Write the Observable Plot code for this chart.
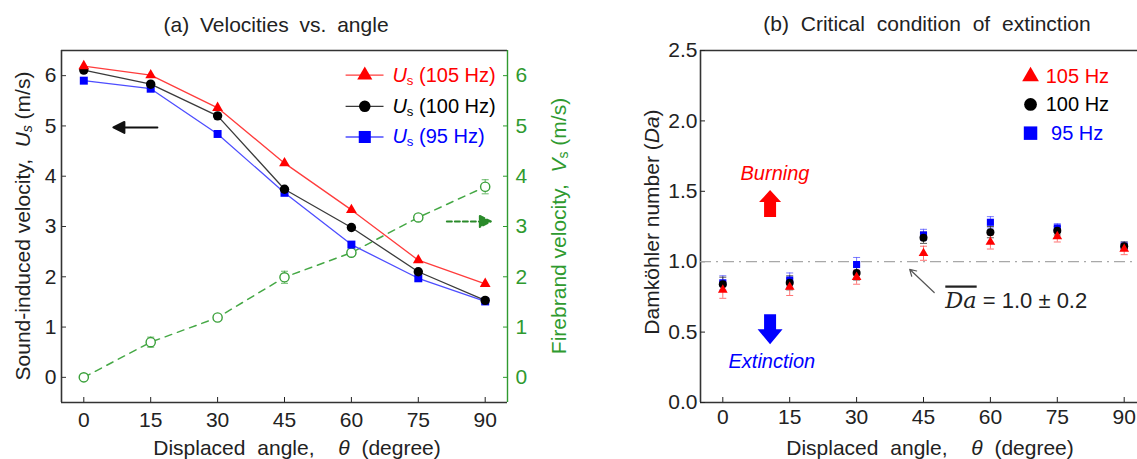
<!DOCTYPE html>
<html><head><meta charset="utf-8">
<script src="https://cdn.jsdelivr.net/npm/d3@7"></script>
<script src="https://cdn.jsdelivr.net/npm/@observablehq/plot@0.6"></script>
<style>
html,body{margin:0;padding:0;background:#fff;overflow:hidden;}
#wrap{position:relative;width:1137px;height:459px;overflow:hidden;background:#fff;}
#wrap svg{position:absolute;top:0;overflow:visible;}
</style></head>
<body><div id="wrap"></div>
<script>
// ---------- data ----------
const angles = [0, 15, 30, 45, 60, 75, 90];
const us105 = [6.19, 6.01, 5.36, 4.26, 3.33, 2.33, 1.86];
const us100 = [6.11, 5.83, 5.20, 3.74, 2.98, 2.10, 1.53];
const us95  = [5.90, 5.74, 4.84, 3.67, 2.64, 1.97, 1.51];
const vs    = [0.00, 0.70, 1.19, 1.99, 2.48, 3.18, 3.79];
const vsErr = [0.04, 0.10, 0.06, 0.12, 0.05, 0.05, 0.14];
const da105 = [0.80, 0.82, 0.89, 1.06, 1.14, 1.18, 1.09];
const da100 = [0.84, 0.85, 0.92, 1.17, 1.21, 1.22, 1.11];
const da95  = [0.85, 0.87, 0.98, 1.19, 1.28, 1.24, 1.11];
const da105Err = [0.06, 0.06, 0.05, 0.05, 0.05, 0.04, 0.04];
const da100Err = [0.05, 0.05, 0.05, 0.04, 0.04, 0.03, 0.03];
const da95Err  = [0.05, 0.05, 0.05, 0.04, 0.04, 0.03, 0.03];
const daMean = [1.0];
const yTicksA = [0, 1, 2, 3, 4, 5, 6];
const yTicksB = [0, 0.5, 1.0, 1.5, 2.0, 2.5];
const seriesNames = ["105 Hz", "100 Hz", "95 Hz"];
const titleA = "(a) Velocities vs. angle";
const titleB = "(b) Critical condition of extinction";

// ---------- styling / layout ----------
const FONT = '"Liberation Sans", Arial, Helvetica, sans-serif';
const TXT = "#222";
const RED = "#ff0000", BLK = "#000000", BLU = "#0000ff", GRN = "#2f9a2f";
const FS = 21;
const xDomain = [-5, 95];
const yDomainA = [-0.5, 6.5];
const yDomainB = [0, 2.5];

const toRows = (vals, err) => angles.map((x, i) => ({x, y: vals[i], e: err ? err[i] : 0}));
const capSymbol = {draw(ctx) { ctx.moveTo(-3.5, 0); ctx.lineTo(3.5, 0); }};
const lineArrow = {draw(ctx, l) { const hl = 11, hw = 5.5; ctx.moveTo(0, 0); ctx.lineTo(0, -(l - hl)); ctx.moveTo(-hw, -(l - hl)); ctx.lineTo(0, -l); ctx.lineTo(hw, -(l - hl)); ctx.closePath(); }};
const blockArrow = (sw, hw, hl) => ({draw(ctx, l) { ctx.moveTo(-sw, 0); ctx.lineTo(-sw, -(l - hl)); ctx.lineTo(-hw, -(l - hl)); ctx.lineTo(0, -l); ctx.lineTo(hw, -(l - hl)); ctx.lineTo(sw, -(l - hl)); ctx.lineTo(sw, 0); ctx.closePath(); }});

function errMarks(rows, color) {
  return [
    Plot.ruleX(rows, {x: "x", y1: d => d.y - d.e, y2: d => d.y + d.e, stroke: color, strokeWidth: 1, strokeOpacity: 0.8}),
    Plot.dot(rows, {x: "x", y: d => d.y + d.e, symbol: capSymbol, stroke: color, fill: "none", strokeWidth: 1, strokeOpacity: 0.8}),
    Plot.dot(rows, {x: "x", y: d => d.y - d.e, symbol: capSymbol, stroke: color, fill: "none", strokeWidth: 1, strokeOpacity: 0.8})
  ];
}

function rich(svg, {x, y, rotate = 0, anchor = "middle", size = FS, fill = TXT, ws = 0}, parts) {
  const t = d3.select(svg).append("text")
    .attr("transform", `translate(${x},${y})` + (rotate ? ` rotate(${rotate})` : ""))
    .attr("text-anchor", anchor).attr("dominant-baseline", "central")
    .attr("font-family", FONT).attr("font-size", size).attr("fill", fill)
    .style("white-space", "pre").style("word-spacing", ws + "px");
  let shift = 0;
  for (const p of parts) {
    const s = t.append("tspan").text(p.t);
    if (p.i) s.attr("font-style", "italic");
    if (p.serif) s.attr("font-family", '"DejaVu Serif", "Liberation Serif", serif').attr("font-size", size * 1.02);
    if (p.over) s.attr("text-decoration", "overline");
    if (p.sub) { s.attr("font-size", size * 0.66).attr("dy", 5); shift = 5; }
    else if (shift) { s.attr("dy", -shift); shift = 0; }
  }
}

const wrap = document.getElementById("wrap");

// ---------- panel (a) ----------
const usRows = [toRows(us95), toRows(us100), toRows(us105)];
const usStyle = [
  {line: "#4d4dff", fill: BLU, symbol: "square", r: 4.5},
  {line: "#3a3a3a", fill: BLK, symbol: "circle", r: 4.7},
  {line: "#ff3c3c", fill: RED, symbol: "triangle", r: 4.0}
];
const vsRows = toRows(vs, vsErr);
const legendA = [
  {y: 6.01, color: RED, line: "#ff3c3c", symbol: "triangle", r: 5.6, name: seriesNames[0]},
  {y: 5.39, color: BLK, line: "#3a3a3a", symbol: "circle", r: 5.8, name: seriesNames[1]},
  {y: 4.78, color: BLU, line: "#4d4dff", symbol: "square", r: 6.8, name: seriesNames[2]}
];
const legA = {x1: 58.7, x2: 67.2, xm: 63.0, xt: 69.3};
const arrowsA = [
  {x: 16.5, y: 4.97, rotate: -90},
  {x: 81.4, y: 3.10, rotate: 90}
];

const plotA = Plot.plot({
  width: 600, height: 459,
  marginLeft: 61, marginRight: 93, marginTop: 50, marginBottom: 57,
  x: {domain: xDomain},
  y: {domain: yDomainA},
  r: {type: "identity"},
  style: {fontFamily: FONT, fontSize: FS + "px", color: TXT, background: "transparent", overflow: "visible"},
  marks: [
    Plot.ruleY([yDomainA[1]], {stroke: "#333", strokeWidth: 1.6}),
    Plot.ruleY([yDomainA[0]], {stroke: "#333", strokeWidth: 1.6}),
    Plot.ruleX([xDomain[0]], {stroke: "#333", strokeWidth: 1.6}),
    Plot.ruleX([xDomain[1]], {stroke: GRN, strokeWidth: 1.4}),
    Plot.axisY({ticks: yTicksA, tickFormat: d3.format("d"), tickSize: -5, tickPadding: 10, label: null, fontSize: FS, stroke: "#333"}),
    Plot.axisY({anchor: "right", ticks: yTicksA, tickFormat: d3.format("d"), tickSize: -5, tickPadding: 13, label: null, fontSize: FS, color: GRN}),
    Plot.axisX({ticks: angles, tickFormat: d3.format("d"), tickSize: -5, tickPadding: 15, label: null, fontSize: FS}),
    // firebrand velocity
    Plot.line(vsRows, {x: "x", y: "y", stroke: "#45a845", strokeWidth: 1.5, strokeDasharray: "7,6"}),
    ...errMarks(vsRows, "#45a845"),
    Plot.dot(vsRows, {x: "x", y: "y", r: 4.6, stroke: "#3aa03a", strokeWidth: 1.4, fill: "white"}),
    // sound-induced velocity
    ...usRows.map((rows, k) => Plot.line(rows, {x: "x", y: "y", stroke: usStyle[k].line, strokeWidth: 1.3})),
    ...usRows.map((rows, k) => Plot.dot(rows, {x: "x", y: "y", symbol: usStyle[k].symbol, r: usStyle[k].r, fill: usStyle[k].fill, stroke: "none"})),
    // legend
    Plot.link(legendA, {x1: () => legA.x1, x2: () => legA.x2, y1: "y", y2: "y", stroke: "line", strokeWidth: 1.3}),
    Plot.dot(legendA, {x: () => legA.xm, y: "y", symbol: "symbol", r: "r", fill: "color", stroke: "none"}),
    // arrows
    Plot.vector(arrowsA.slice(0, 1), {x: "x", y: "y", rotate: "rotate", length: 44, anchor: "start", shape: lineArrow, stroke: "#111", fill: "#111", strokeWidth: 2}),
    Plot.vector(arrowsA.slice(1), {x: "x", y: "y", rotate: "rotate", length: 44, anchor: "start", shape: lineArrow, stroke: "#2a8a2a", fill: "#2a8a2a", strokeWidth: 2, strokeDasharray: "5,3"})
  ]
});
plotA.style.left = "0px";
wrap.appendChild(plotA);
{
  const sx = plotA.scale("x"), sy = plotA.scale("y");
  rich(plotA, {x: 276, y: 24, ws: 5}, [{t: titleA}]);
  legendA.forEach(d => rich(plotA, {x: sx.apply(legA.xt), y: sy.apply(d.y), anchor: "start", fill: d.color, size: 20},
    [{t: "U", i: true}, {t: "s", sub: true}, {t: " (" + d.name + ")"}]));
  rich(plotA, {x: 22, y: 226, rotate: -90, size: 21}, [{t: "Sound-induced velocity,  "}, {t: "U", i: true}, {t: "s", sub: true, i: true}, {t: " (m/s)"}]);
  rich(plotA, {x: 558, y: 226, rotate: -90, fill: GRN, size: 21}, [{t: "Firebrand velocity,  "}, {t: "V", i: true}, {t: "s", sub: true}, {t: " (m/s)"}]);
  rich(plotA, {x: 297, y: 447, ws: 6}, [{t: "Displaced angle,  "}, {t: "θ", i: true}, {t: " (degree)"}]);
}

// ---------- panel (b) ----------
const daSets = [
  {rows: toRows(da95, da95Err), fill: BLU, err: "#5a5aff", symbol: "square", r: 4.0},
  {rows: toRows(da100, da100Err), fill: BLK, err: "#333", symbol: "circle", r: 4.0},
  {rows: toRows(da105, da105Err), fill: RED, err: "#ff5050", symbol: "triangle", r: 3.6}
];
const legendB = [
  {y: 2.316, color: RED, symbol: "triangle", r: 6.2, name: seriesNames[0], xt: 72.4},
  {y: 2.117, color: BLK, symbol: "circle", r: 6.4, name: seriesNames[1], xt: 72.4},
  {y: 1.913, color: BLU, symbol: "square", r: 7.6, name: seriesNames[2], xt: 73.6}
];
const legBx = 69.0;
const notesB = [
  {x: 11.7, y: 1.627, text: "Burning", color: RED},
  {x: 11.0, y: 0.293, text: "Extinction", color: BLU}
];
const blockB = [
  {x: 10.6, y: 1.317, rotate: 0},
  {x: 10.6, y: 0.627, rotate: 180}
];
const pointerB = [{x1: 47.4, y1: 0.781, x2: 41.9, y2: 0.946}];
const daLabel = {x: 50.0, y: 0.721};

const plotB = Plot.plot({
  width: 560, height: 459,
  marginLeft: 100, marginRight: 14, marginTop: 50, marginBottom: 57,
  x: {domain: xDomain},
  y: {domain: yDomainB},
  r: {type: "identity"},
  style: {fontFamily: FONT, fontSize: FS + "px", color: TXT, background: "transparent", overflow: "visible"},
  marks: [
    Plot.ruleY([yDomainB[1]], {stroke: "#333", strokeWidth: 1.6}),
    Plot.ruleY([yDomainB[0]], {stroke: "#333", strokeWidth: 1.6}),
    Plot.ruleX([xDomain[0]], {stroke: "#333", strokeWidth: 1.6}),
    Plot.ruleX([xDomain[1]], {stroke: "#333", strokeWidth: 1.6}),
    Plot.axisY({ticks: yTicksB, tickFormat: d3.format(".1f"), tickSize: -5, tickPadding: 8, label: null, fontSize: FS}),
    Plot.axisX({ticks: angles, tickFormat: d3.format("d"), tickSize: -5, tickPadding: 12, label: null, fontSize: FS}),
    Plot.ruleY(daMean, {stroke: "#a8a8a8", strokeWidth: 1.3, strokeDasharray: "11,5,2,5"}),
    ...daSets.flatMap(s => errMarks(s.rows, s.err)),
    ...daSets.map(s => Plot.dot(s.rows, {x: "x", y: "y", symbol: s.symbol, r: s.r, fill: s.fill, stroke: "none"})),
    Plot.dot(legendB, {x: () => legBx, y: "y", symbol: "symbol", r: "r", fill: "color", stroke: "none"}),
    Plot.text(legendB, {x: "xt", y: "y", text: "name", fill: "color", textAnchor: "start", fontSize: 20}),
    Plot.text(notesB, {x: "x", y: "y", text: "text", fill: "color", fontStyle: "italic", fontSize: 20}),
    Plot.vector(blockB.slice(0, 1), {x: "x", y: "y", rotate: "rotate", length: 27, anchor: "start", shape: blockArrow(6, 11, 12), fill: RED, stroke: "none"}),
    Plot.vector(blockB.slice(1), {x: "x", y: "y", rotate: "rotate", length: 30, anchor: "start", shape: blockArrow(6, 12.5, 15), fill: BLU, stroke: "none"}),
    Plot.arrow(pointerB, {x1: "x1", y1: "y1", x2: "x2", y2: "y2", stroke: "#555", strokeWidth: 1.2, headLength: 9})
  ]
});
plotB.style.left = "600px";
wrap.appendChild(plotB);
{
  const sx = plotB.scale("x"), sy = plotB.scale("y");
  rich(plotB, {x: 327, y: 23, ws: 6}, [{t: titleB}]);
  rich(plotB, {x: sx.apply(daLabel.x), y: sy.apply(daLabel.y), anchor: "start", size: 22},
    [{t: "Da", i: true, serif: true, over: true}, {t: " = 1.0 ± 0.2"}]);
  rich(plotB, {x: 51, y: 222, rotate: -90, size: 21}, [{t: "Damköhler number ("}, {t: "Da", i: true}, {t: ")"}]);
  rich(plotB, {x: 330, y: 447, ws: 6}, [{t: "Displaced angle,  "}, {t: "θ", i: true}, {t: " (degree)"}]);
}
</script>
</body></html>
